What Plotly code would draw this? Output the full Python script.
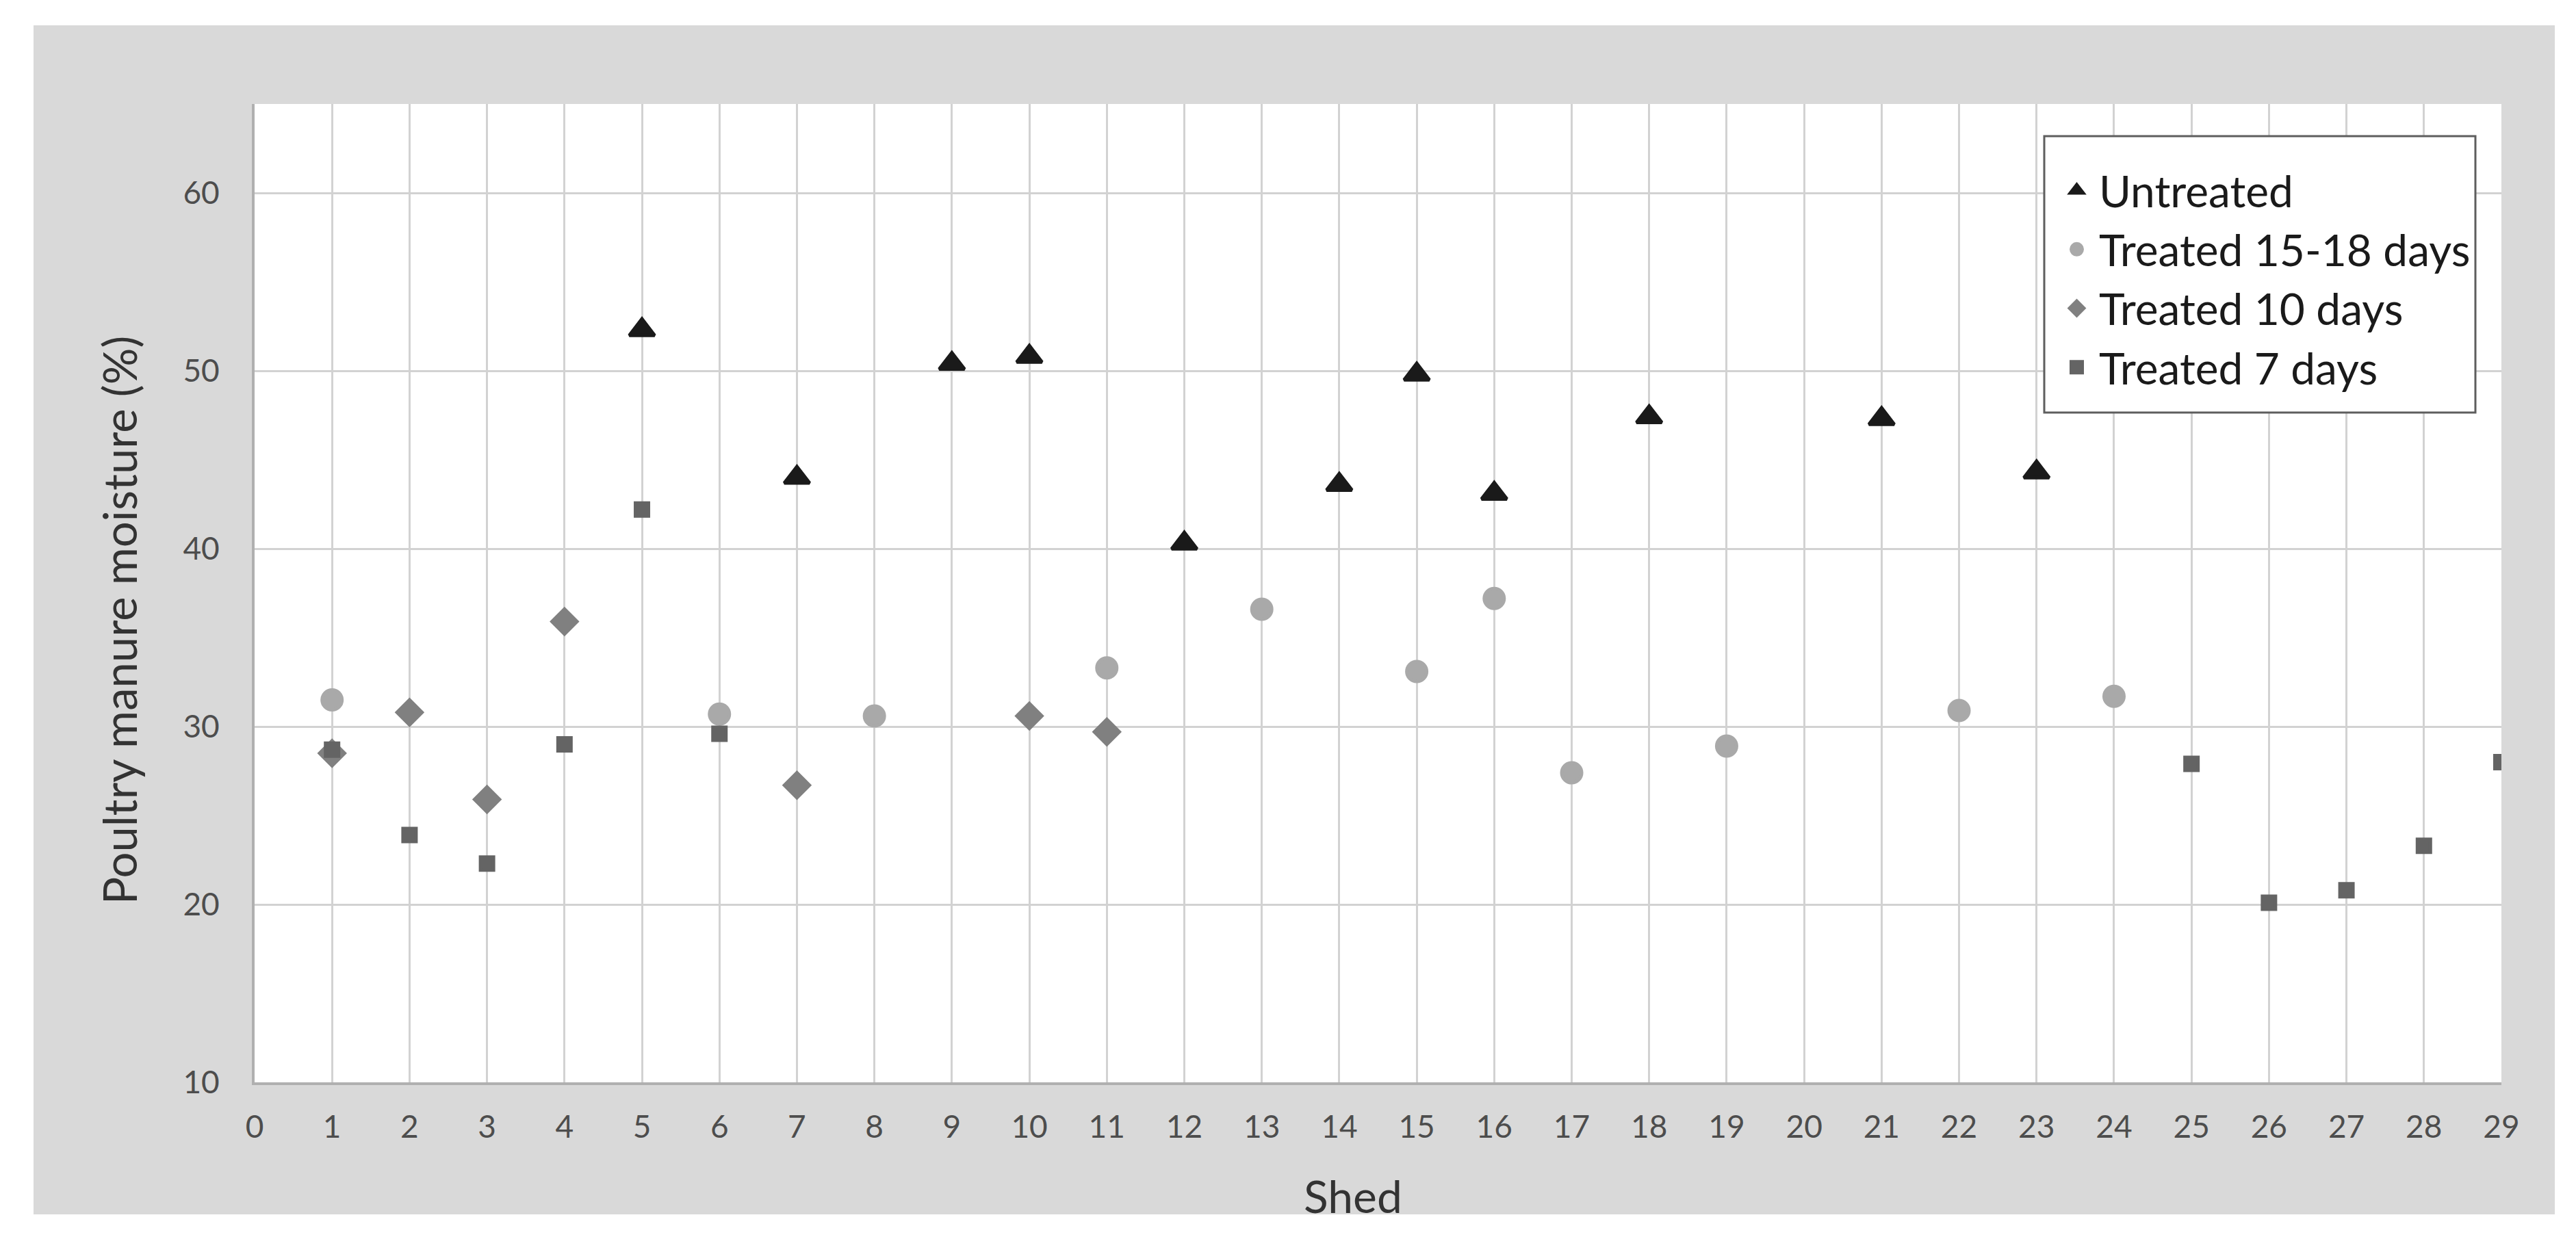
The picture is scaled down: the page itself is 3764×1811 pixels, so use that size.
import plotly.graph_objects as go

# ---- data ----
untreated_shed = [5, 7, 9, 10, 12, 14, 15, 16, 18, 21, 23]
untreated_val = [52.3, 44.0, 50.4, 50.8, 40.3, 43.6, 49.8, 43.1, 47.4, 47.3, 44.3]

t1518_shed = [1, 6, 8, 11, 13, 15, 16, 17, 19, 22, 24]
t1518_val = [31.5, 30.7, 30.6, 33.3, 36.6, 33.1, 37.2, 27.4, 28.9, 30.9, 31.7]

t10_shed = [1, 2, 3, 4, 7, 10, 11]
t10_val = [28.5, 30.8, 25.9, 35.9, 26.7, 30.6, 29.7]

t7_shed = [1, 2, 3, 4, 5, 6, 25, 26, 27, 28, 29]
t7_val = [28.7, 23.9, 22.3, 29.0, 42.2, 29.6, 27.9, 20.1, 20.8, 23.3, 28.0]

x_ticks = list(range(0, 30))
y_ticks = [10, 20, 30, 40, 50, 60]

series_names = ["Untreated", "Treated 15-18 days", "Treated 10 days", "Treated 7 days"]

# ---- layout geometry (page pixels; the page body adds an 8 px offset) ----
OFF = 8
PAGE_W, PAGE_H = 3764, 1811
W, H = PAGE_W - 2 * OFF, PAGE_H - 2 * OFF
PLOT_L, PLOT_R, PLOT_T, PLOT_B = 372, 3655, 152, 1582  # page coords
L = PLOT_L - OFF
R = W - (PLOT_R - OFF)
T = PLOT_T - OFF
B = H - (PLOT_B - OFF)
PW = W - L - R
PH = H - T - B


def px_x(p):
    return (p - OFF - L) / PW


def px_y(p):
    return (H - B - (p - OFF)) / PH


FONT = "Lato"

fig = go.Figure()

fig.add_trace(go.Scatter(
    x=untreated_shed, y=untreated_val, mode="markers", name=series_names[0],
    marker=dict(symbol="triangle-up", size=32, color="#1a1a1a",
                line=dict(color="#1a1a1a", width=5)),
))
fig.add_trace(go.Scatter(
    x=t1518_shed, y=t1518_val, mode="markers", name=series_names[1],
    marker=dict(symbol="circle", size=29, color="#a9a9a9",
                line=dict(color="#a9a9a9", width=5)),
))
fig.add_trace(go.Scatter(
    x=t10_shed, y=t10_val, mode="markers", name=series_names[2],
    marker=dict(symbol="diamond", size=28, color="#808080",
                line=dict(color="#808080", width=5)),
))
fig.add_trace(go.Scatter(
    x=t7_shed, y=t7_val, mode="markers", name=series_names[3],
    marker=dict(symbol="square", size=19, color="#646464",
                line=dict(color="#646464", width=5)),
))

shapes = [
    # grey chart frame
    dict(type="rect", xref="paper", yref="paper", layer="below",
         x0=px_x(49), x1=px_x(3733), y0=px_y(1775), y1=px_y(37),
         fillcolor="#d9d9d9", line=dict(width=0)),
    # white plot area
    dict(type="rect", xref="paper", yref="paper", layer="below",
         x0=0, x1=1, y0=0, y1=1, fillcolor="white", line=dict(width=0)),
    # legend box
    dict(type="rect", xref="paper", yref="paper", layer="above",
         x0=px_x(2987), x1=px_x(3617), y0=px_y(603), y1=px_y(199),
         fillcolor="white", line=dict(color="#5e5e5e", width=3)),
]

annotations = [
    dict(text="Poultry manure moisture (%)", xref="paper", yref="paper",
         x=px_x(174), y=px_y(907), showarrow=False, textangle=-90,
         xanchor="center", yanchor="middle",
         font=dict(family=FONT, size=67, color="#333333")),
    dict(text="Shed", xref="paper", yref="paper",
         x=px_x(1977), y=px_y(1747), showarrow=False,
         xanchor="center", yanchor="middle",
         font=dict(family=FONT, size=66, color="#333333")),
]

fig.update_layout(
    width=W, height=H, autosize=False,
    margin=dict(l=L, r=R, t=T, b=B, pad=0),
    paper_bgcolor="white", plot_bgcolor="white",
    font=dict(family=FONT, color="#4d4d4d"),
    shapes=shapes, annotations=annotations,
    showlegend=True,
    legend=dict(
        x=px_x(3002), y=px_y(230), xanchor="left", yanchor="top",
        bgcolor="rgba(0,0,0,0)", borderwidth=0,
        font=dict(family=FONT, size=64, color="#1a1a1a"),
        itemwidth=55, tracegroupgap=0,
    ),
    xaxis=dict(
        range=[0, 29], tickmode="array", tickvals=x_ticks,
        ticktext=[str(v) for v in x_ticks],
        showgrid=True, gridcolor="#d2d2d2", gridwidth=3,
        showline=True, linecolor="#b0b0b0", linewidth=4,
        zeroline=False, ticks="outside", ticklen=22, tickcolor="rgba(0,0,0,0)",
        tickfont=dict(family=FONT, size=46, color="#4d4d4d"),
        fixedrange=True,
    ),
    yaxis=dict(
        range=[10, 65], tickmode="array", tickvals=y_ticks,
        ticktext=[str(v) for v in y_ticks],
        showgrid=True, gridcolor="#d2d2d2", gridwidth=3,
        showline=True, linecolor="#b0b0b0", linewidth=4,
        zeroline=False, ticks="outside", ticklen=38, tickcolor="rgba(0,0,0,0)",
        tickfont=dict(family=FONT, size=46, color="#4d4d4d"),
        fixedrange=True,
    ),
)

fig.write_html("out.html")
